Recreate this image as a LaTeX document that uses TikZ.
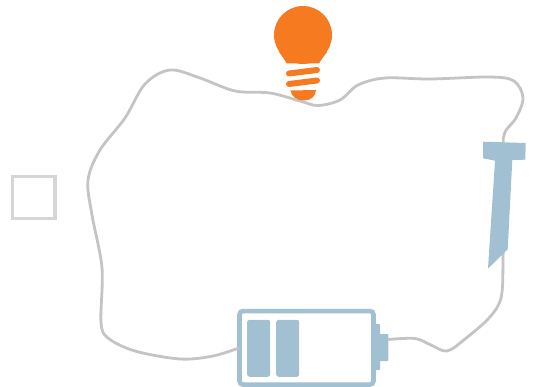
\documentclass[tikz,border=0pt]{standalone}
\usepackage{xcolor}
\usetikzlibrary{positioning}
\definecolor{wiregray}{HTML}{C4C4C4}
\definecolor{switchgray}{HTML}{D6D6D6}
\definecolor{lampcolor}{HTML}{F67A20}
\definecolor{cellblue}{HTML}{A1C1D3}
\tikzstyle{wire} = [
draw=wiregray,
line width=2.8,
line join=round
]
\tikzstyle{switchbox} = [
rectangle,
draw=switchgray,
line width=3.2,
minimum width=42.5,
minimum height=42,
inner sep=0,
outer sep=0
]
\tikzstyle{batterycase} = [
rectangle,
rounded corners=3.5,
draw=cellblue,
fill=white,
line width=4.6,
minimum width=134,
minimum height=73.5,
inner sep=0,
outer sep=0
]
\tikzstyle{cell} = [
rectangle,
rounded corners=2.5,
fill=cellblue,
minimum width=23,
minimum height=57,
inner sep=0,
outer sep=0
]
\tikzstyle{terminal} = [
rectangle,
rounded corners=0.8,
fill=cellblue,
inner sep=0,
outer sep=0
]
\tikzstyle{thread} = [
draw=lampcolor,
line width=6,
line cap=round
]
\begin{document}
\begin{tikzpicture}[x=1pt,y=-1pt]
        \useasboundingbox (0,0) rectangle (535,387);

        \node(switch)[switchbox] at (33.7,197.5) {};

        \node(battery)[batterycase] at (306.5,347.8) {};

        \node(cella)[cell] at (258.7,348.3) {};

        \node(cellb)[cell,right=6 of cella] {};

        \node(terminala)[terminal,minimum width=7,minimum height=46] at (376.5,347.2) {};

        \node(terminalb)[terminal,minimum width=10,minimum height=27] at (383.3,347.5) {};

        \coordinate (lampbase) at (318,105.5);
        \coordinate (nailend) at (503,200);
        \coordinate (wireend) at (388,339.5);

        \draw[wire] plot[smooth,tension=0.55] coordinates {
        (battery.west) (213,356) (180,359) (135,351) (108,338) (101,322)
        (102,268) (92,215) (88,180) (100,150) (125,118) (145,84) (170,70)
        (200,78) (235,91) (270,93) (300,101) (lampbase) (340,100) (358,85)
        (385,78) (430,79) (490,77) (514,81) (523,98) (516,118) (505,132)
        (503,148) (nailend) (503,262) (501,298) (489,318) (465,339) (447,351)
        (431,345) (415,338.5) (wireend)
        };

        \node(lamp)[circle,fill=lampcolor,minimum size=58,inner sep=0,outer sep=0] at (303,35) {};

        \fill[lampcolor] (279,52) .. controls (282,56) and (285,60) .. (286.5,63.5) -- (319,63.5) .. controls (321,60) and (324,56) .. (327,52) -- cycle;

        \draw[thread] (289,73.5) -- (317,70);

        \draw[thread] (289,84) -- (317,80.5);

        \fill[lampcolor] (290.5,90.5) -- (316,90) .. controls (316,96) and (311,100.5) .. (304,100.5) .. controls (296,100.5) and (291.5,96) .. cycle;

        \fill[cellblue] (483,141.7) -- (525.7,143) -- (525.3,159.7) -- (512.3,160) -- (507.7,249.3) -- (488,268.7) -- (495,160.7) -- (483,158.3) -- cycle;
\end{tikzpicture}
\end{document}
